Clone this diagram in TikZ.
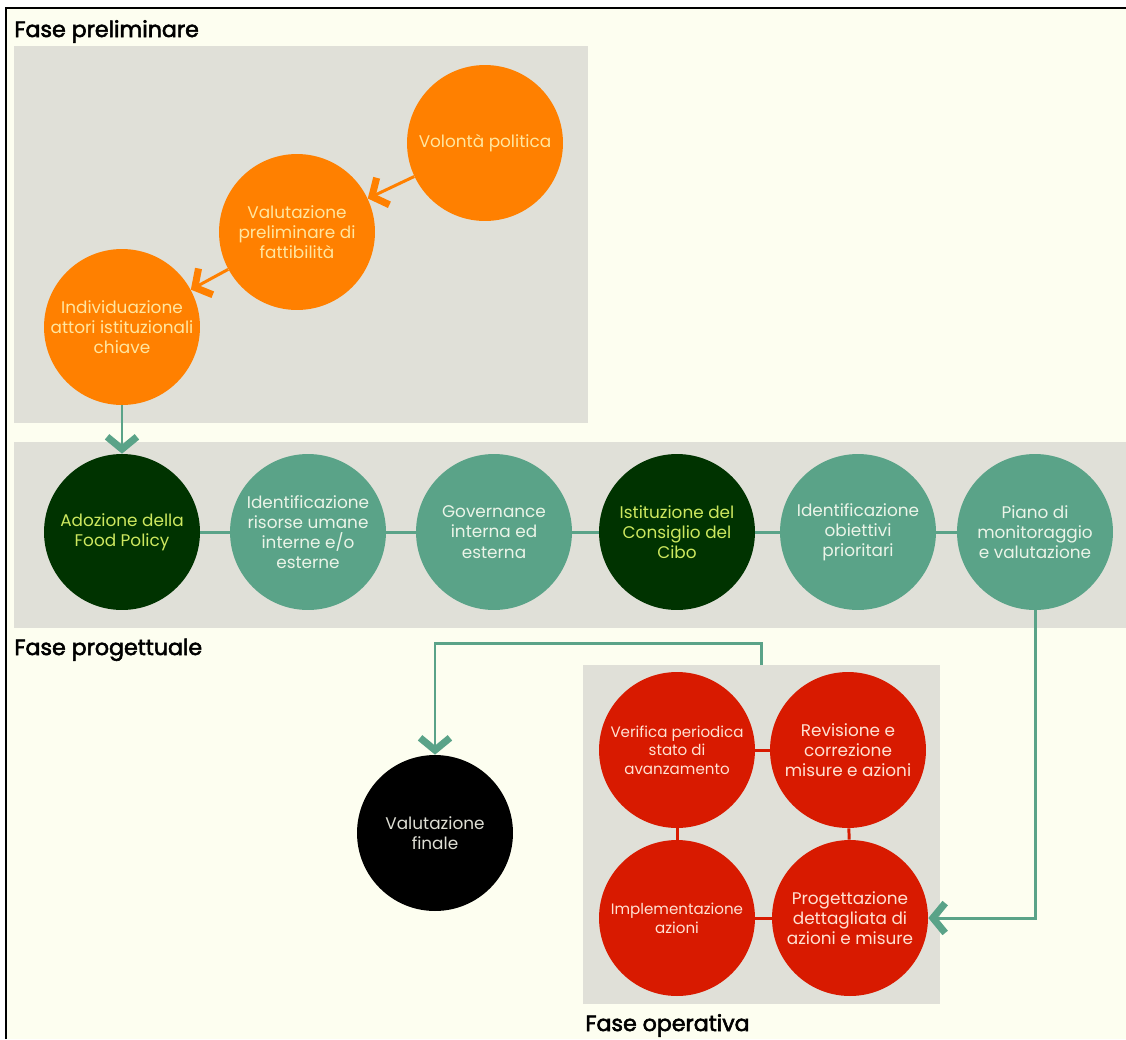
\documentclass[tikz,border=0pt]{standalone}
\usepackage{fontspec}
\setmainfont{Poppins}
\newfontfamily\titlefont[FakeBold=2.5]{Poppins}
\usetikzlibrary{arrows.meta}

\definecolor{fpcream}{RGB}{253,254,240}
\definecolor{fpgray}{RGB}{224,224,216}
\definecolor{fporange}{RGB}{255,128,0}
\definecolor{fporangetxt}{RGB}{255,230,160}
\definecolor{fpteal}{RGB}{90,163,136}
\definecolor{fptealtxt}{RGB}{235,244,232}
\definecolor{fpdark}{RGB}{0,51,0}
\definecolor{fpdarktxt}{RGB}{205,232,95}
\definecolor{fpred}{RGB}{216,26,0}
\definecolor{fpredtxt}{RGB}{255,225,210}
\definecolor{fpfinaltxt}{RGB}{222,222,212}

\begin{document}
\begin{tikzpicture}[x=0.02cm,y=-0.02cm,
>={Straight Barb[length=7pt,width=17pt,line width=4pt]},
fase/.style={anchor=base west,inner sep=0pt,font=\titlefont\fontsize{12.6}{14}\selectfont},
circ/.style={circle,minimum size=3.12cm,inner sep=0pt,align=center,font=\fontsize{9.6}{11.5}\selectfont},
small/.style={font=\fontsize{8.6}{10.6}\selectfont},
preli/.style={circ,fill=fporange,text=fporangetxt},
prog/.style={circ,fill=fpteal,text=fptealtxt},
keystep/.style={circ,fill=fpdark,text=fpdarktxt},
oper/.style={circ,fill=fpred,text=fpredtxt},
final/.style={circ,fill=black,text=fpfinaltxt},
link/.style={fpteal,line width=1.7pt},
oplink/.style={fpred,line width=1.7pt},
prelink/.style={fporange,line width=1.7pt}]

\useasboundingbox (0,0) rectangle (1126,1039);
\fill[white] (0,0) rectangle (1126,1039);
\fill[fpcream] (6,8) rectangle (1126,1039);
\draw[line width=1.2pt] (6,1039) -- (6,8) -- (1126,8);

% fasi
\fill[fpgray] (14,46) rectangle (588,423);
\fill[fpgray] (14,442) rectangle (1126,628);
\fill[fpgray] (583,665) rectangle (940,1004);
\coordinate (optop) at (761.5,665);

\draw (14,37) node[fase] (tpre) {Fase preliminare};
\draw (14,655) node[fase] (tprog) {Fase progettuale};
\draw (585,1031) node[fase] (toper) {Fase operativa};

% fase preliminare
\draw (485,143) node[preli] (vol) {Volontà politica};
\draw (297,232) node[preli] (fat) {Valutazione\\preliminare di\\fattibilità};
\draw (122,327) node[preli] (att) {Individuazione\\attori istituzionali\\chiave};

% fase progettuale
\draw (122,532) node[keystep] (ado) {Adozione della\\Food Policy};
\draw (308,532) node[prog] (ris) {Identificazione\\risorse umane\\interne e/o\\esterne};
\draw (494,532) node[prog] (gov) {Governance\\interna ed\\esterna};
\draw (677,532) node[keystep] (ist) {Istituzione del\\Consiglio del\\Cibo};
\draw (858,532) node[prog] (obi) {Identificazione\\obiettivi\\prioritari};
\draw (1035,532) node[prog] (pia) {Piano di\\monitoraggio\\e valutazione};

% fase operativa
\draw (677,750) node[oper,small] (ver) {Verifica periodica\\stato di\\avanzamento};
\draw (848,750) node[oper] (rev) {Revisione e\\correzione\\misure e azioni};
\draw (677,918) node[oper,small] (imp) {Implementazione\\azioni};
\draw (850,918) node[oper] (pro) {Progettazione\\dettagliata di\\azioni e misure};

\draw (435,833) node[final] (fin) {Valutazione\\finale};

\draw[->,prelink] (vol) -- (fat);
\draw[->,prelink] (fat) -- (att);
\draw[->,link] (att) -- (ado);

\draw[link] (ado) -- (ris);
\draw[link] (ris) -- (gov);
\draw[link] (gov) -- (ist);
\draw[link] (ist) -- (obi);
\draw[link] (obi) -- (pia);

\draw[->,link] (pia) |- (pro);
\draw[oplink] (ver) -- (rev);
\draw[oplink] (ver) -- (imp);
\draw[oplink] (rev) -- (pro);
\draw[oplink] (imp) -- (pro);
\draw[->,link] (optop) -- ++(0,-22) -| (fin);

\end{tikzpicture}
\end{document}
